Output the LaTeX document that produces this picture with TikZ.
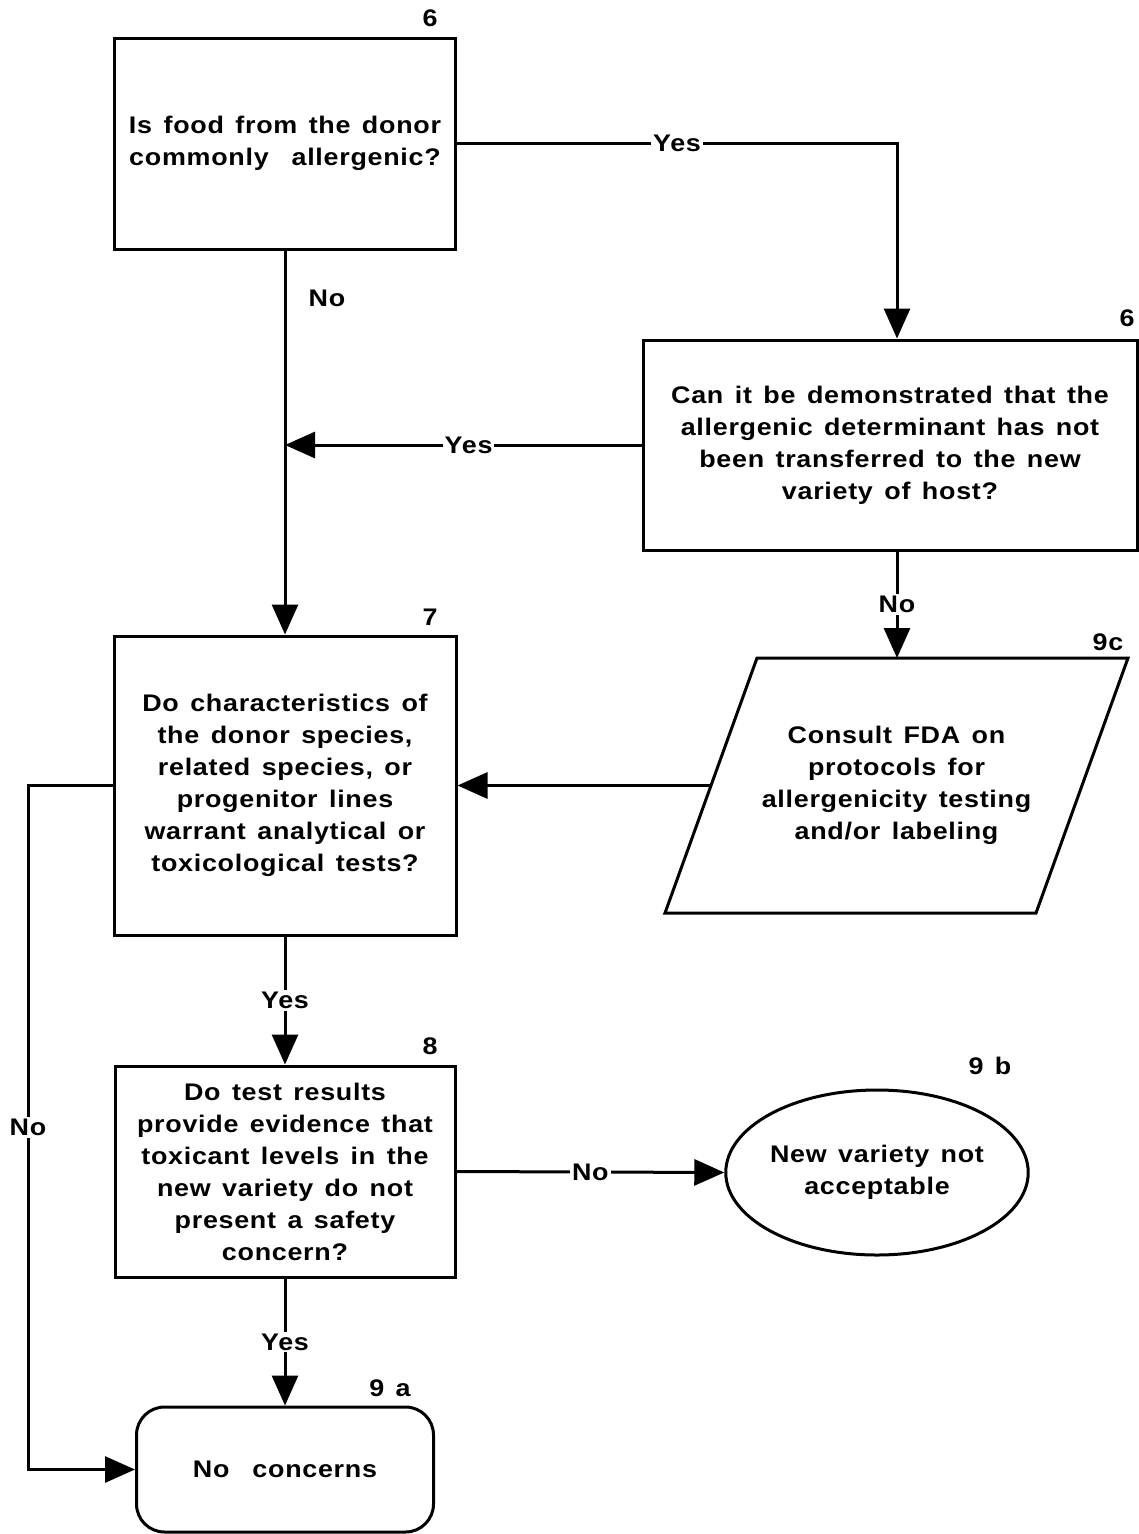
\documentclass[tikz,border=0pt]{standalone}
\usepackage{fontspec}
\setmainfont{Liberation Sans}[FakeStretch=1.12,LetterSpace=3,WordSpace=1.4]
\usetikzlibrary{arrows.meta,shapes.geometric}
\begin{document}
\begin{tikzpicture}[x=1pt,y=-1pt,
  every node/.style={font=\bfseries\fontsize{24}{32}\selectfont},
  box/.style={draw,line width=3pt,align=center,inner sep=0pt},
  arr/.style={line width=3pt,-{Triangle[length=30pt,width=26pt]}},
  conn/.style={line width=3pt},
  lbl/.style={fill=white,inner sep=2pt},
  num/.style={inner sep=0pt}]
\useasboundingbox (0,0) rectangle (1139,1534);

% decision and outcome boxes
\node[box,minimum width=341,minimum height=211] (b1) at (285,143.5)
  {Is food from the donor\\commonly\ \ allergenic?};
\node[box,minimum width=494,minimum height=210] (b2) at (890,445)
  {Can it be demonstrated that the\\allergenic determinant has not\\been transferred to the new\\variety of host?};
\node[box,minimum width=342,minimum height=299] (b3) at (285,785.5)
  {Do characteristics of\\the donor species,\\related species, or\\progenitor lines\\warrant analytical or\\toxicological tests?};

% input/output parallelogram, drawn from its corners
\coordinate (pTL) at (757,658);
\coordinate (pTR) at (1128,658);
\coordinate (pBR) at (1036,913);
\coordinate (pBL) at (665,913);
\draw[conn,line join=miter] (pTL) -- (pTR) -- (pBR) -- (pBL) -- cycle;
\node[align=center] (fda) at (896.5,785.5)
  {Consult FDA on\\protocols for\\allergenicity testing\\and/or labeling};
\coordinate (fdaN) at (897,658);
\coordinate (fdaW) at (711,785.5);

\node[box,minimum width=340,minimum height=211] (b8) at (285,1171.5)
  {Do test results\\provide evidence that\\toxicant levels in the\\new variety do not\\present a safety\\concern?};
\node[box,ellipse,minimum width=296,minimum height=165] (b9b) at (877,1172.5)
  {New variety not\\acceptable};
\node[box,rounded corners=28pt,minimum width=297,minimum height=125] (b9a) at (285,1469.5)
  {No\ \ concerns};

% reference numbers
\node[num] (n1) at (430,18) {6};
\node[num] (n2) at (1127,318) {6};
\node[num] (n3) at (430,617) {7};
\node[num] (n4) at (1108,642) {9c};
\node[num] (n5) at (430,1046) {8};
\node[num] (n6) at (990,1066) {9 b};
\node[num] (n7) at (390,1388) {9 a};

% connectors
\draw[arr] (b1.east) -| node[lbl,pos=0.25] {Yes} ([xshift=7pt]b2.north);
\draw[arr] (b1.south) -- (b3.north);
\node (noA) at (327,298) {No};
\draw[arr] (b2.west) -- node[lbl,pos=0.485] {Yes} (b2.west -| b1.south);
\draw[arr] ([xshift=7pt]b2.south) -- node[lbl] {No} (fdaN);
\draw[arr] (fdaW) -- (b3.east);
\draw[arr] (b3.south) -- node[lbl] {Yes} (b8.north);
\draw[arr] (b8.east) -- node[lbl] {No} (b9b.west);
\draw[arr] (b8.south) -- node[lbl] {Yes} (b9a.north);
\draw[arr] (b3.west) -- (28,785.5) -- node[lbl,pos=0.5] {No} (28,1469.5) -- (b9a.west);
\end{tikzpicture}
\end{document}
